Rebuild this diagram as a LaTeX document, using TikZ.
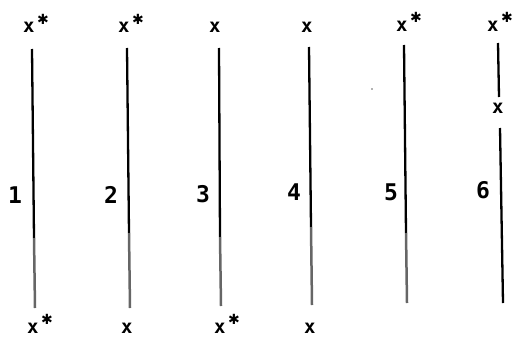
\documentclass[tikz,border=0pt]{standalone}
\usepackage{fontspec}
\setmainfont{DejaVu Sans Mono}
\newfontfamily\starfont{DejaVu Sans}
\newcommand{\xs}{x\hspace{2.5pt}\raisebox{8.5pt}{\starfont\fontsize{14}{14}\selectfont ✱}}
\begin{document}
\begin{tikzpicture}[x=1pt,y=-1pt,
  mark x/.style={font=\fontsize{19}{19}\selectfont\bfseries, inner sep=0pt, anchor=base west},
  num/.style={font=\fontsize{23}{23}\selectfont\bfseries, inner sep=0pt, anchor=base west},
  upper/.style={line width=2.3pt, black},
  lower/.style={line width=2.5pt, black!60},
  plain/.style={line width=2.3pt, black}]
\useasboundingbox (0,0) rectangle (513,345);
% top labels
\node[mark x] (t1) at (23,33) {\xs};
\node[mark x] (t2) at (118,33) {\xs};
\node[mark x] (t3) at (209,33) {x};
\node[mark x] (t4) at (301,33) {x};
\node[mark x] (t5) at (396,31) {\xs};
\node[mark x] (t6) at (487,31) {\xs};
% bottom labels
\node[mark x] (b1) at (27,333) {\xs};
\node[mark x] (b2) at (121,333) {x};
\node[mark x] (b3) at (214,333) {\xs};
\node[mark x] (b4) at (304,333) {x};
\node[mark x] (m6) at (492,113) {x};
% numbers
\node[num] (n1) at (8,203) {1};
\node[num] (n2) at (104,203) {2};
\node[num] (n3) at (196,202) {3};
\node[num] (n4) at (287,200) {4};
\node[num] (n5) at (384,200) {5};
\node[num] (n6) at (476,198) {6};
% line end points
\coordinate (a1) at (32,49);  \coordinate (g1) at (34,238); \coordinate (e1) at (35,308);
\coordinate (a2) at (127,48); \coordinate (g2) at (129,233); \coordinate (e2) at (130,308);
\coordinate (a3) at (219,48); \coordinate (g3) at (220,237); \coordinate (e3) at (221,306);
\coordinate (a4) at (309,47); \coordinate (g4) at (311,227); \coordinate (e4) at (312,305);
\coordinate (a5) at (404,45); \coordinate (g5) at (406,233); \coordinate (e5) at (407,303);
\coordinate (a6) at (498,43); \coordinate (e6) at (499,97);
\coordinate (c6) at (500,128); \coordinate (d6) at (503,303);
\foreach \i in {1,...,5}{
  \draw[upper] (a\i) -- (g\i);
  \draw[lower] (g\i) -- (e\i);
}
\draw[plain] (a6) -- (e6);
\draw[plain] (c6) -- (d6);
% speck
\fill[black!60] (372,89) circle (0.9pt);
\end{tikzpicture}
\end{document}
